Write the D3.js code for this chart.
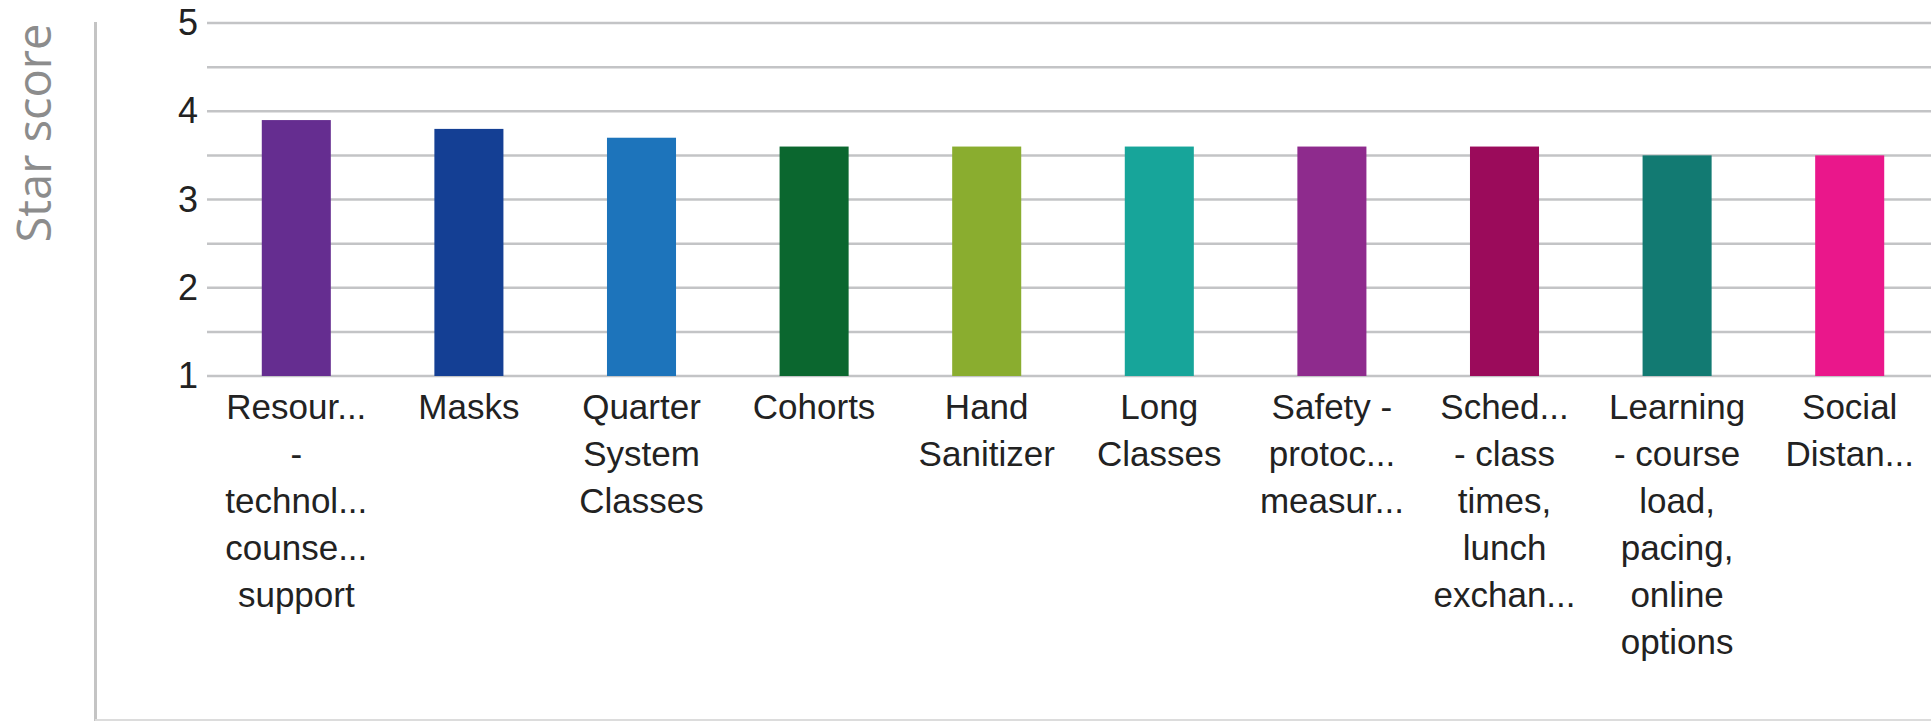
<!DOCTYPE html>
<html>
<head>
<meta charset="utf-8">
<script src="https://cdn.jsdelivr.net/npm/d3@7"></script>
<style>
  body { margin: 0; background: #fff; }
  svg { display: block; }
</style>
</head>
<body>
<svg id="chart" width="1931" height="721"></svg>
<script>
// data
const categories = [
  ["Resour...", "-", "technol...", "counse...", "support"],
  ["Masks"],
  ["Quarter", "System", "Classes"],
  ["Cohorts"],
  ["Hand", "Sanitizer"],
  ["Long", "Classes"],
  ["Safety -", "protoc...", "measur..."],
  ["Sched...", "- class", "times,", "lunch", "exchan..."],
  ["Learning", "- course", "load,", "pacing,", "online", "options"],
  ["Social", "Distan..."]
];
const scores = [3.9, 3.8, 3.7, 3.6, 3.6, 3.6, 3.6, 3.6, 3.5, 3.5];
const barColors = ["#652d90", "#143f94", "#1d74bb", "#0b672f", "#8aad2f",
                   "#17a59a", "#8e2b8d", "#9b0b5b", "#127a72", "#ea178b"];
const yTicks = [1, 2, 3, 4, 5];
const yGrid = [1, 1.5, 2, 2.5, 3, 3.5, 4, 4.5, 5];
const yTitle = "Star score";

const svg = d3.select('#chart');
const margin = {top: 23, right: 0, bottom: 345, left: 207};
const width = 1931 - margin.left - margin.right;
const height = 721 - margin.top - margin.bottom;

const x = d3.scaleBand()
  .domain(d3.range(categories.length))
  .range([3, width + 5])
  .paddingInner(0.6)
  .paddingOuter(0.3);

const y = d3.scaleLinear().domain([1, 5]).range([height, 0]);

// frame lines on the left and bottom
svg.append('line')
  .attr('x1', 95.5).attr('x2', 95.5).attr('y1', 22).attr('y2', 721)
  .attr('stroke', '#c4c4c4').attr('stroke-width', 3);
svg.append('line')
  .attr('x1', 95).attr('x2', 1931).attr('y1', 720).attr('y2', 720)
  .attr('stroke', '#dcdcdc').attr('stroke-width', 2);

svg.append('text')
  .attr('transform', 'translate(51,133) rotate(-90)')
  .attr('text-anchor', 'middle')
  .attr('font-family', '"Open Sans", sans-serif')
  .attr('font-size', 47)
  .attr('fill', '#8c8c8c')
  .text(yTitle);

const g = svg.append('g').attr('transform', 'translate(' + margin.left + ',' + margin.top + ')');

g.selectAll('.grid')
  .data(yGrid)
  .enter().append('line')
    .attr('class', 'grid')
    .attr('x1', 0).attr('x2', width)
    .attr('y1', d => y(d)).attr('y2', d => y(d))
    .attr('stroke', '#c3c4c6')
    .attr('stroke-width', 2.5);

const yAxis = g.append('g')
  .call(d3.axisLeft(y).tickValues(yTicks).tickSize(0).tickPadding(9).tickFormat(d3.format('d')));
yAxis.select('.domain').remove();
yAxis.selectAll('text')
  .attr('font-family', '"Liberation Sans", Arial, sans-serif')
  .attr('font-size', 36)
  .attr('fill', '#222');

g.selectAll('.bar')
  .data(scores)
  .enter().append('rect')
    .attr('class', 'bar')
    .attr('x', (d, i) => x(i))
    .attr('y', d => y(d))
    .attr('width', x.bandwidth())
    .attr('height', d => y(1) - y(d))
    .attr('fill', (d, i) => barColors[i]);

// category labels, already wrapped and cut like the source
const labels = g.selectAll('.catLabel')
  .data(categories)
  .enter().append('text')
    .attr('class', 'catLabel')
    .attr('text-anchor', 'middle')
    .attr('font-family', '"Liberation Sans", Arial, sans-serif')
    .attr('font-size', 35)
    .attr('fill', '#222')
    .attr('transform', (d, i) => 'translate(' + (x(i) + x.bandwidth() / 2) + ',' + (height + 43) + ')');

labels.selectAll('tspan')
  .data(d => d)
  .enter().append('tspan')
    .attr('x', 0)
    .attr('y', (d, i) => i * 47)
    .text(d => d);
</script>
</body>
</html>
